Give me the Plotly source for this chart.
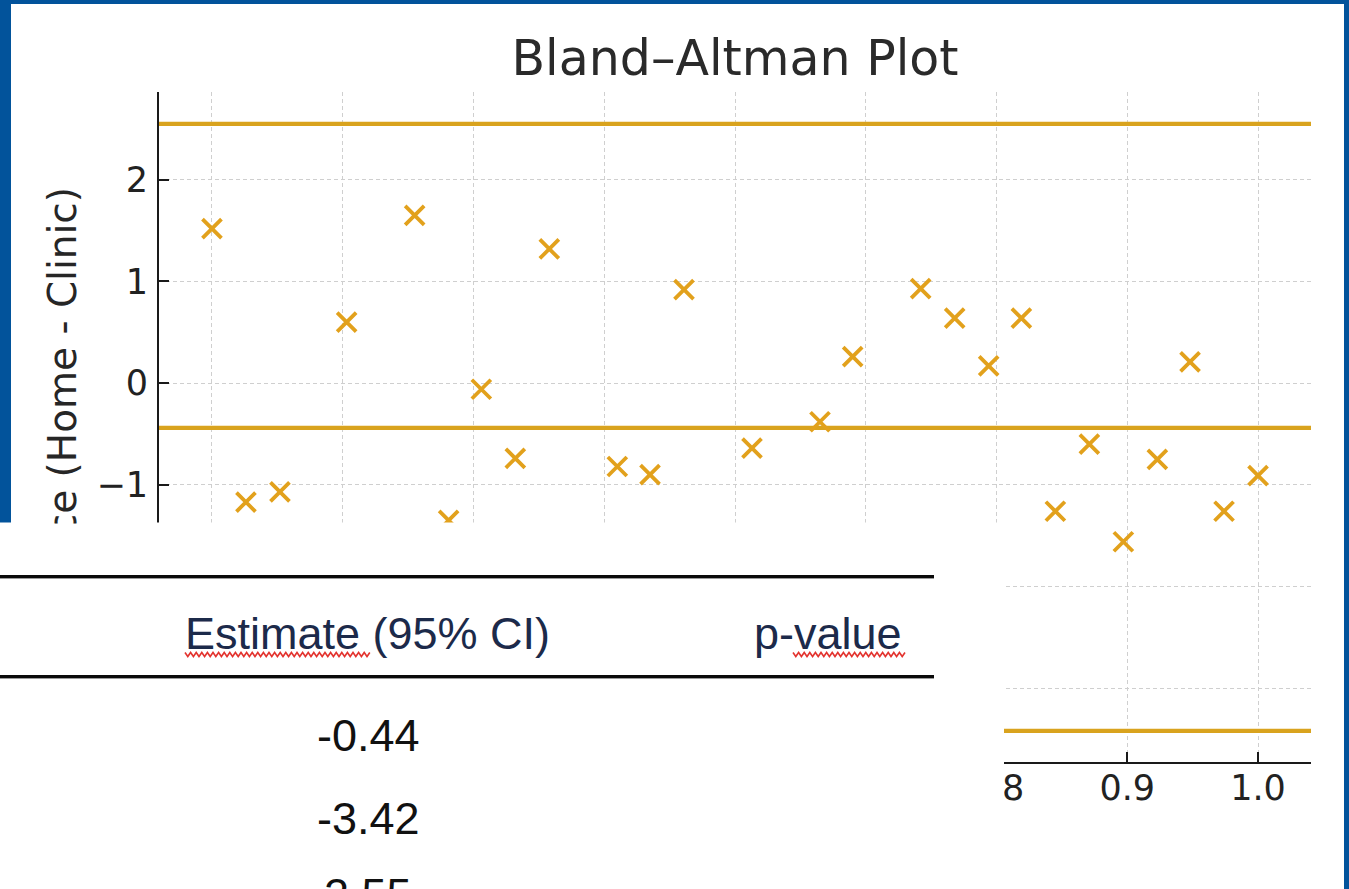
import plotly.graph_objects as go

# ---------------- data ----------------
mean_x = [0.200, 0.226, 0.252, 0.303, 0.355, 0.381, 0.406, 0.432, 0.458,
          0.510, 0.535, 0.561, 0.613, 0.665, 0.690, 0.742, 0.768, 0.794,
          0.819, 0.845, 0.871, 0.897, 0.923, 0.948, 0.974, 1.000]
diff_y = [1.52, -1.17, -1.07, 0.60, 1.65, -1.35, -0.06, -0.74, 1.32,
          -0.82, -0.90, 0.92, -0.64, -0.38, 0.26, 0.93, 0.64, 0.17,
          0.64, -1.26, -0.60, -1.56, -0.75, 0.21, -1.26, -0.91]
bias = -0.44
loa_lower = -3.42
loa_upper = 2.55
x_ticks = [0.2, 0.3, 0.4, 0.5, 0.6, 0.7, 0.8, 0.9, 1.0]
y_ticks = [-3, -2, -1, 0, 1, 2]
x_range = [0.1595, 1.0405]
y_range = [-3.727, 2.864]
table_header = ["Estimate (95% CI)", "p-value"]
table_values = [bias, loa_lower, loa_upper]

# ---------------- layout geometry ----------------
W, H = 1349, 889
ML, MR, MT, MB = 159, 38, 92, 127
PW, PH = W - ML - MR, H - MT - MB

def px(x):
    return (x - ML) / PW

def py(y):
    return (H - MB - y) / PH

GOLD_LINE = "#D9A31E"
GOLD_MARK = "#E2A11C"
BLUE = "#02539B"
FONT = "DejaVu Sans"
TFONT = "Liberation Sans, Arial, sans-serif"

fig = go.Figure()
# bias and limits of agreement
for v in [loa_upper, bias, loa_lower]:
    fig.add_trace(go.Scatter(
        x=x_range, y=[v, v], mode="lines",
        line=dict(color=GOLD_LINE, width=4.2),
        showlegend=False, hoverinfo="skip"))
fig.add_trace(go.Scatter(
    x=mean_x, y=diff_y, mode="markers",
    marker=dict(symbol="x-thin", size=19, color=GOLD_MARK,
                line=dict(color=GOLD_MARK, width=3.8)),
    showlegend=False, hoverinfo="skip"))

shapes = []
# white page inside blue frame
shapes.append(dict(type="rect", xref="paper", yref="paper",
                   x0=px(11), x1=px(1344), y0=py(4), y1=py(H + 5),
                   fillcolor="white", line=dict(width=0), layer="below"))
# table overlay (white panel)
shapes.append(dict(type="rect", xref="paper", yref="paper",
                   x0=px(-5), x1=px(1004), y0=py(522.5), y1=py(H + 10),
                   fillcolor="white", line=dict(width=0), layer="above"))
# table rules
for yy in [576.5, 676.5]:
    shapes.append(dict(type="rect", xref="paper", yref="paper",
                       x0=px(-5), x1=px(934), y0=py(yy + 2.6), y1=py(yy + 1.4),
                       fillcolor="#9a9a9a", line=dict(width=0), layer="above"))
    shapes.append(dict(type="rect", xref="paper", yref="paper",
                       x0=px(-5), x1=px(934), y0=py(yy + 1.5), y1=py(yy - 1.5),
                       fillcolor="#0a0a0a", line=dict(width=0), layer="above"))

# spell-check squiggles
def squiggle(xa, xb, yc):
    pts = []
    x = xa
    k = 0
    while x <= xb:
        yv = yc - 2.0 if k % 2 == 0 else yc + 2.0
        pts.append((px(x), py(yv)))
        x += 2.8
        k += 1
    d = "M " + " L ".join(f"{a:.6f},{b:.6f}" for a, b in pts)
    return dict(type="path", xref="paper", yref="paper", path=d,
                line=dict(color="#E3342F", width=1.6), layer="above")

shapes.append(squiggle(185, 372, 654.5))
shapes.append(squiggle(793, 906, 654.5))

annotations = []
# y-axis label (lower part is hidden behind the table panel)
annotations.append(dict(
    text="Difference (Home - Clinic)", textangle=-90,
    xref="paper", yref="paper", x=px(62), y=py(186),
    xanchor="center", yanchor="top", showarrow=False,
    width=522.5 - 186, align="right", borderpad=0,
    font=dict(family=FONT, size=39, color="#262626")))
# table texts
annotations.append(dict(text=table_header[0], xref="paper", yref="paper",
                        x=px(367.5), y=py(633), xanchor="center", yanchor="middle",
                        showarrow=False,
                        font=dict(family=TFONT, size=45, color="#1C2A4A")))
annotations.append(dict(text=table_header[1], xref="paper", yref="paper",
                        x=px(827.5), y=py(633), xanchor="center", yanchor="middle",
                        showarrow=False,
                        font=dict(family=TFONT, size=45, color="#1C2A4A")))
for v, yc in zip(table_values, [735, 818, 895]):
    annotations.append(dict(text=f"{v:.2f}", xref="paper", yref="paper",
                            x=px(368), y=py(yc), xanchor="center", yanchor="middle",
                            showarrow=False,
                            font=dict(family=TFONT, size=45, color="#111111")))

fig.update_layout(
    width=W, height=H,
    margin=dict(l=ML, r=MR, t=MT, b=MB, pad=0),
    paper_bgcolor=BLUE, plot_bgcolor="white",
    title=dict(text="Bland–Altman Plot", x=px((ML + W - MR) / 2), xref="paper",
               xanchor="center", y=1 - 58 / H, yref="container", yanchor="middle",
               font=dict(family=FONT, size=49, color="#2a2a2a")),
    shapes=shapes, annotations=annotations,
    showlegend=False,
)
fig.update_xaxes(range=x_range, tickvals=x_ticks, tickformat=".1f",
                 showline=True, linecolor="#1a1a1a", linewidth=2, mirror=False,
                 ticks="inside", ticklen=10, tickwidth=1.6, tickcolor="#1a1a1a",
                 showgrid=True, gridcolor="#cfcfcf", gridwidth=1, griddash="4px,3px",
                 zeroline=False, ticklabelstandoff=-6,
                 tickfont=dict(family=FONT, size=35, color="#222222"))
fig.update_yaxes(range=y_range, tickvals=y_ticks,
                 showline=True, linecolor="#1a1a1a", linewidth=2, mirror=False,
                 ticks="inside", ticklen=10, tickwidth=1.6, tickcolor="#1a1a1a",
                 showgrid=True, gridcolor="#cfcfcf", gridwidth=1, griddash="4px,3px",
                 zeroline=False, ticklabelstandoff=2,
                 tickfont=dict(family=FONT, size=35, color="#222222"))

fig.write_html("out.html", config={"displayModeBar": False},
               post_script="document.body.style.margin='0';document.body.style.overflow='hidden';")
